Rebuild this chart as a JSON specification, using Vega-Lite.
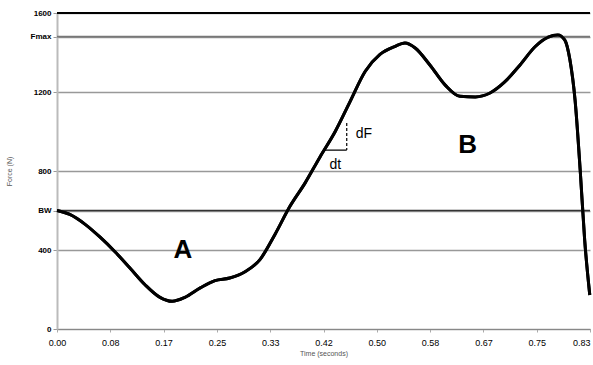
{
  "$schema": "https://vega.github.io/schema/vega-lite/v6.json",
  "width": 533,
  "height": 316,
  "autosize": "none",
  "padding": {"left": 57, "top": 13, "right": 3, "bottom": 36},
  "background": "white",
  "config": {"view": {"stroke": null}, "font": "Liberation Sans"},
  "datasets": {
    "curve": [
      {"t": 0.000, "F": 600}, {"t": 0.020, "F": 580}, {"t": 0.044, "F": 530}, {"t": 0.067, "F": 466},
      {"t": 0.091, "F": 390}, {"t": 0.114, "F": 309}, {"t": 0.138, "F": 223}, {"t": 0.161, "F": 160},
      {"t": 0.180, "F": 140}, {"t": 0.200, "F": 160}, {"t": 0.224, "F": 208}, {"t": 0.247, "F": 245},
      {"t": 0.270, "F": 258}, {"t": 0.294, "F": 290}, {"t": 0.317, "F": 350}, {"t": 0.341, "F": 480},
      {"t": 0.364, "F": 620}, {"t": 0.388, "F": 740}, {"t": 0.411, "F": 870}, {"t": 0.435, "F": 1000},
      {"t": 0.458, "F": 1150}, {"t": 0.482, "F": 1305}, {"t": 0.505, "F": 1390}, {"t": 0.528, "F": 1430},
      {"t": 0.544, "F": 1448}, {"t": 0.560, "F": 1423}, {"t": 0.583, "F": 1337}, {"t": 0.607, "F": 1235},
      {"t": 0.630, "F": 1178}, {"t": 0.654, "F": 1175}, {"t": 0.677, "F": 1195}, {"t": 0.700, "F": 1251},
      {"t": 0.724, "F": 1337}, {"t": 0.747, "F": 1428}, {"t": 0.768, "F": 1478}, {"t": 0.783, "F": 1489},
      {"t": 0.794, "F": 1463}, {"t": 0.802, "F": 1362}, {"t": 0.810, "F": 1159}, {"t": 0.818, "F": 805},
      {"t": 0.825, "F": 451}, {"t": 0.833, "F": 172}
    ],
    "refs": [
      {"F": 600, "kind": "BW"},
      {"F": 1480, "kind": "Fmax"},
      {"F": 1600, "kind": "top"}
    ],
    "big": [
      {"t": 0.197, "F": 400, "label": "A"},
      {"t": 0.642, "F": 930, "label": "B"}
    ],
    "small": [
      {"t": 0.480, "F": 985, "label": "dF"},
      {"t": 0.435, "F": 830, "label": "dt"}
    ],
    "segs": [
      {"t": 0.453, "t2": 0.453, "F": 1043, "F2": 906, "dash": "y"},
      {"t": 0.416, "t2": 0.453, "F": 906, "F2": 906, "dash": "n"}
    ]
  },
  "layer": [
    {
      "data": {"name": "curve"},
      "mark": {"type": "line", "color": "black", "strokeWidth": 3, "interpolate": "monotone"},
      "encoding": {
        "x": {
          "field": "t", "type": "quantitative",
          "scale": {"domain": [0, 0.83334], "nice": false, "zero": false},
          "axis": {
            "values": [0, 0.08333, 0.16667, 0.25, 0.33333, 0.41667, 0.5, 0.58333, 0.66667, 0.75, 0.83333],
            "format": ".2f", "grid": false, "title": "Time (seconds)",
            "titleFontSize": 7, "titleFontWeight": "normal", "titleColor": "#555", "titlePadding": 2,
            "labelFontSize": 9, "labelColor": "black", "labelPadding": 6, "labelFlush": false, "labelBound": false, "labelOverlap": false,
            "labelAlign": {"condition": {"test": "datum.value > 0.8", "value": "right"}, "value": "center"},
            "domainColor": "#888", "tickColor": "#aaa", "tickSize": 3
          }
        },
        "y": {
          "field": "F", "type": "quantitative",
          "scale": {"domain": [0, 1600], "nice": false},
          "axis": {
            "values": [0, 400, 600, 800, 1200, 1480, 1600],
            "labelExpr": "datum.value == 600 ? 'BW' : datum.value == 1480 ? 'Fmax' : datum.label",
            "format": "d",
            "grid": true, "gridColor": "#999", "gridWidth": 1.5,
            "title": "Force (N)", "titleFontSize": 7, "titleFontWeight": "normal", "titleColor": "#555", "titlePadding": 18,
            "labelFontSize": 8, "labelColor": "black", "labelFontWeight": "bold", "labelPadding": 2,
            "domainColor": "#bbb", "domainWidth": 2, "tickColor": "#999", "tickSize": 4
          }
        }
      }
    },
    {
      "data": {"name": "refs"},
      "mark": {"type": "rule"},
      "encoding": {
        "y": {"field": "F", "type": "quantitative"},
        "color": {"field": "kind", "type": "nominal", "scale": {"domain": ["BW", "Fmax", "top"], "range": ["#333", "#777", "black"]}, "legend": null},
        "strokeWidth": {"field": "kind", "type": "nominal", "scale": {"domain": ["BW", "Fmax", "top"], "range": [1.5, 2, 2.5]}, "legend": null}
      }
    },
    {
      "data": {"name": "segs"},
      "mark": {"type": "rule", "color": "black", "strokeWidth": 1.2},
      "encoding": {
        "x": {"field": "t", "type": "quantitative"},
        "x2": {"field": "t2"},
        "y": {"field": "F", "type": "quantitative"},
        "y2": {"field": "F2"},
        "strokeDash": {"field": "dash", "type": "nominal", "scale": {"domain": ["y", "n"], "range": [[3, 2], [1, 0]]}, "legend": null}
      }
    },
    {
      "data": {"name": "big"},
      "mark": {"type": "text", "color": "black", "font": "Liberation Sans", "fontSize": 26, "fontWeight": "bold", "baseline": "middle"},
      "encoding": {
        "x": {"field": "t", "type": "quantitative"},
        "y": {"field": "F", "type": "quantitative"},
        "text": {"field": "label"}
      }
    },
    {
      "data": {"name": "small"},
      "mark": {"type": "text", "color": "black", "font": "Liberation Sans", "fontSize": 14, "baseline": "middle"},
      "encoding": {
        "x": {"field": "t", "type": "quantitative"},
        "y": {"field": "F", "type": "quantitative"},
        "text": {"field": "label"}
      }
    },
    {
      "data": {"name": "curve"},
      "mark": {"type": "line", "color": "black", "strokeWidth": 3, "interpolate": "monotone"},
      "encoding": {
        "x": {"field": "t", "type": "quantitative"},
        "y": {"field": "F", "type": "quantitative"}
      }
    }
  ]
}
